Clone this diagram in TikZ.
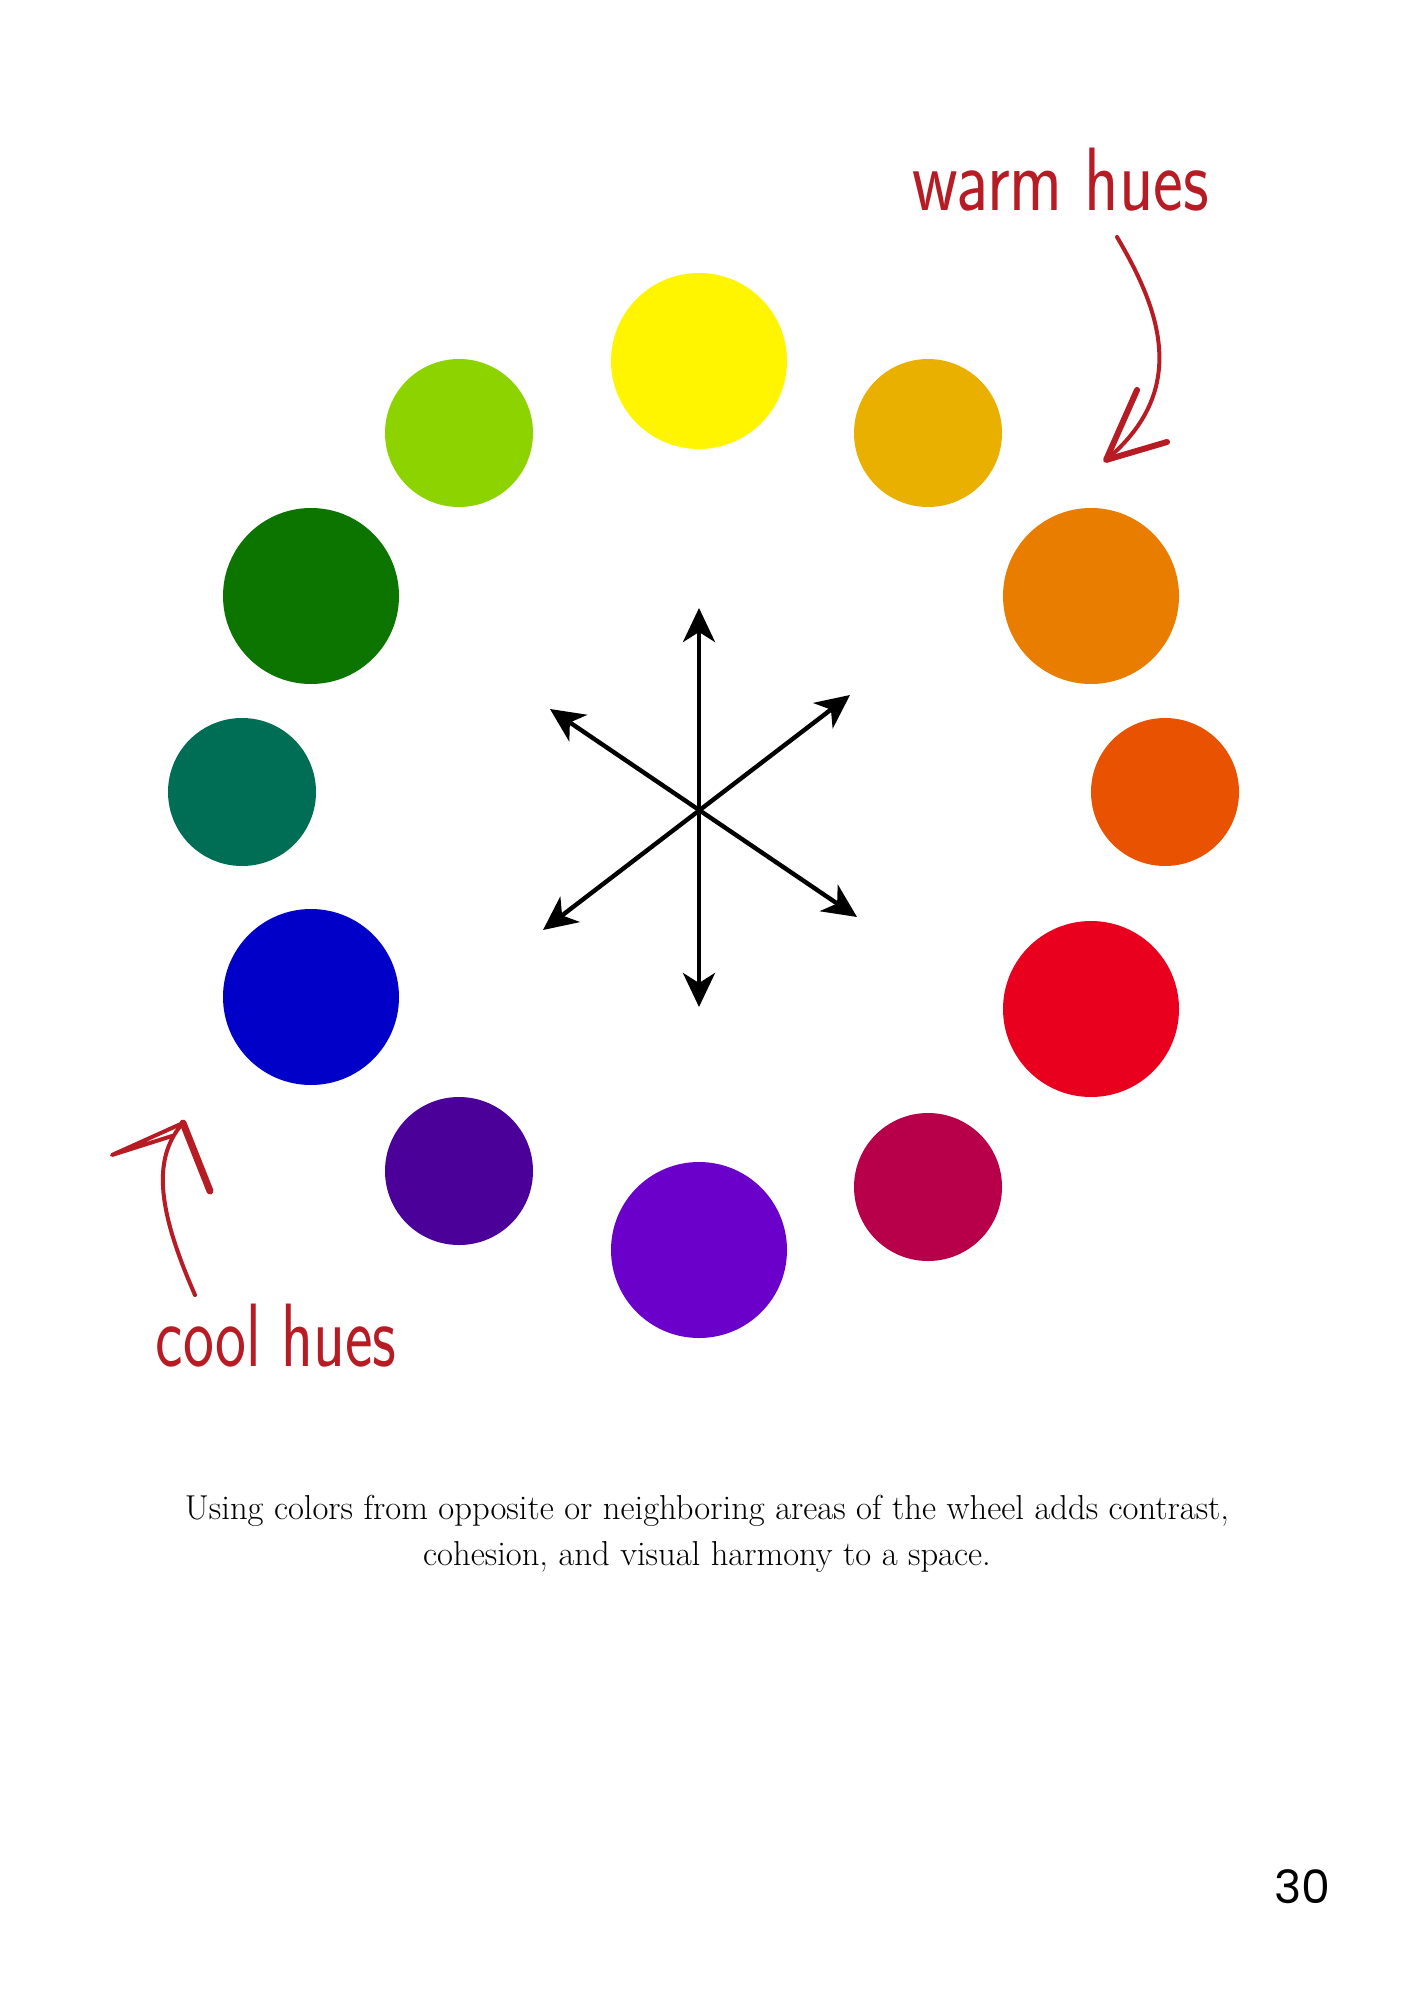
\documentclass[tikz,border=0pt]{standalone}
\usepackage{fontspec}
\newfontfamily\pagefont{Poppins}
\usetikzlibrary{arrows.meta}

\definecolor{hueyellow}{HTML}{FFF500}
\definecolor{huelime}{HTML}{8CD300}
\definecolor{huegold}{HTML}{EAB000}
\definecolor{huegreen}{HTML}{0B7500}
\definecolor{hueorange}{HTML}{E87D00}
\definecolor{hueteal}{HTML}{006E55}
\definecolor{huered-orange}{HTML}{E85200}
\definecolor{hueblue}{HTML}{0000C8}
\definecolor{huered}{HTML}{E9001E}
\definecolor{hueindigo}{HTML}{4B009A}
\definecolor{huecrimson}{HTML}{B8004A}
\definecolor{hueviolet}{HTML}{6A00CA}
\definecolor{handred}{HTML}{B71C24}

\begin{document}
\begin{tikzpicture}[x=0.5pt,y=-0.5pt,
    hue/.style={circle,inner sep=0pt,minimum size=88pt},
    smallhue/.style={circle,inner sep=0pt,minimum size=74pt},
    spoke/.style={line width=2.2pt,{Stealth[length=17pt,width=16pt,inset=5pt]}-{Stealth[length=17pt,width=16pt,inset=5pt]}},
    hand/.style={handred,line width=2pt,line cap=round,line join=round},
    handtext/.style={handred,font=\sffamily\fontsize{45}{45}\selectfont}]
    \useasboundingbox[fill=white] (0,0) rectangle (1414,2000);

    % the wheel
    \node[hue,fill=hueyellow] (yellow) at (699,361) {};
    \node[smallhue,fill=huegold] (gold) at (928,433) {};
    \node[hue,fill=hueorange] (orange) at (1091,596) {};
    \node[smallhue,fill=huered-orange] (redorange) at (1165,792) {};
    \node[hue,fill=huered] (red) at (1091,1009) {};
    \node[smallhue,fill=huecrimson] (crimson) at (928,1187) {};
    \node[hue,fill=hueviolet] (violet) at (699,1250) {};
    \node[smallhue,fill=hueindigo] (indigo) at (459,1171) {};
    \node[hue,fill=hueblue] (blue) at (311,997) {};
    \node[smallhue,fill=hueteal] (teal) at (242,792) {};
    \node[hue,fill=huegreen] (green) at (311,596) {};
    \node[smallhue,fill=huelime] (lime) at (459,433) {};

    % the star
    \coordinate (top) at (699,608);
    \coordinate (bottom) at (699,1007);
    \coordinate (upright) at (850,695);
    \coordinate (downleft) at (543,930);
    \coordinate (upleft) at (550,709);
    \coordinate (downright) at (857,917);
    \draw[spoke] (bottom) -- (top);
    \draw[spoke] (downleft) -- (upright);
    \draw[spoke] (downright) -- (upleft);

    % hand notes
    \node[handtext] (warm) at (1061,180) {\scalebox{0.79}[1]{warm hues}};
    \node[handtext] (cool) at (276,1336) {\scalebox{0.73}[1]{cool hues}};

    \coordinate (warmtail) at (1117,237);
    \coordinate (warmtip) at (1106,460);
    \draw[hand] (warmtail) .. controls (1160,310) and (1190,390) .. (warmtip);
    \draw[hand,line width=3pt] (1137,390) -- (warmtip) -- (1167,442);

    \coordinate (cooltail) at (195,1295);
    \coordinate (cooltip) at (183,1123);
    \draw[hand] (cooltail) .. controls (160,1215) and (150,1160) .. (cooltip);
    \draw[hand] (172,1136) -- (112,1155) -- (cooltip);
    \draw[hand,line width=3.5pt] (cooltip) -- (210,1191);

    % caption and page number
    \node[font=\fontsize{17.3}{23}\selectfont,align=center] (caption) at (707,1534)
        {Using colors from opposite or neighboring areas of the wheel adds contrast,\\
         cohesion, and visual harmony to a space.};
    \node[font=\pagefont\fontsize{23}{23}\selectfont] (pagenum) at (1302,1887) {30};
\end{tikzpicture}
\end{document}
